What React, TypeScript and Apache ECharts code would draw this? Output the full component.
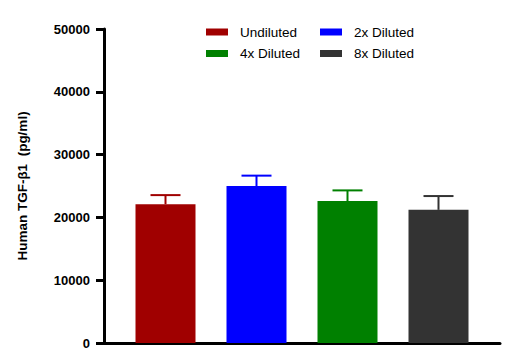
import React, { useEffect, useRef } from "react";
import * as echarts from "echarts";

const categories = ["Sample"];
const seriesNames = ["Undiluted", "2x Diluted", "4x Diluted", "8x Diluted"];
const meanValues = [22100, 25000, 22600, 21200];
const errorTops = [23550, 26650, 24300, 23400];
const yMin = 0;
const yMax = 50000;
const yInterval = 10000;
const yTitle = "Human TGF-\u03b21  (pg/ml)";

const COLORS = ["#a00000", "#0000ff", "#008000", "#333333"];
const BAR_W = 60;
const BAR_GAP = 31;
const CAP_W = 30;
const FONT = "'Liberation Sans', Arial, Helvetica, sans-serif";

export default function App() {
  const ref = useRef<HTMLDivElement>(null);
  useEffect(() => {
    if (!ref.current) return;
    const chart = echarts.init(ref.current, null, { renderer: "svg" });
    const period = BAR_W + BAR_GAP;
    const barSeries = seriesNames.map((name, i) => ({
      name,
      type: "bar",
      data: [meanValues[i]],
      barWidth: BAR_W,
      barGap: `${(BAR_GAP / BAR_W) * 100}%`,
      itemStyle: { color: COLORS[i] },
      z: 2,
    }));
    const errSeries = seriesNames.map((name, i) => ({
      name: name + " SEM",
      type: "custom",
      data: [[0, meanValues[i], errorTops[i]]],
      z: 3,
      renderItem: (params: any, api: any) => {
        const base = api.coord([api.value(0), api.value(1)]);
        const top = api.coord([api.value(0), api.value(2)]);
        const x = base[0] + (i - 1.5) * period;
        const style = { stroke: COLORS[i], lineWidth: 2, fill: "none" };
        return {
          type: "group",
          children: [
            { type: "line", shape: { x1: x, y1: base[1], x2: x, y2: top[1] }, style },
            { type: "line", shape: { x1: x - CAP_W / 2, y1: top[1], x2: x + CAP_W / 2, y2: top[1] }, style },
          ],
        };
      },
    }));
    const legendText = { fontFamily: FONT, fontSize: 13.5, color: "#000", lineHeight: 14, padding: [0, 0, 0, 7] };
    chart.setOption({
      animation: false,
      textStyle: { fontFamily: FONT },
      legend: [
        {
          data: [seriesNames[0], seriesNames[2]],
          orient: "vertical",
          left: 206,
          top: 25,
          padding: 0,
          itemWidth: 22,
          itemHeight: 7,
          itemGap: 7.5,
          icon: "rect",
          textStyle: legendText,
        },
        {
          data: [seriesNames[1], seriesNames[3]],
          orient: "vertical",
          left: 320,
          top: 25,
          padding: 0,
          itemWidth: 22,
          itemHeight: 7,
          itemGap: 7.5,
          icon: "rect",
          textStyle: legendText,
        },
      ],
      grid: { left: 104, right: 8, top: 29, bottom: 18, containLabel: false },
      xAxis: {
        type: "category",
        data: categories,
        axisLine: { lineStyle: { color: "#000", width: 3 } },
        axisTick: { alignWithLabel: true, length: 4, lineStyle: { color: "#000", width: 2 } },
        axisLabel: { show: false },
        splitLine: { show: false },
      },
      yAxis: {
        type: "value",
        min: yMin,
        max: yMax,
        interval: yInterval,
        name: yTitle,
        nameLocation: "middle",
        nameGap: 75,
        nameTextStyle: { fontFamily: FONT, fontSize: 13.5, fontWeight: "bold", color: "#000" },
        axisLine: { show: true, lineStyle: { color: "#000", width: 3 } },
        axisTick: { show: true, length: 8, lineStyle: { color: "#000", width: 3 } },
        axisLabel: {
          margin: 14,
          fontFamily: FONT,
          fontSize: 13,
          fontWeight: "bold",
          color: "#000",
          formatter: (v: number) => String(v),
        },
        splitLine: { show: false },
      },
      series: [...barSeries, ...errSeries],
    });
    return () => chart.dispose();
  }, []);
  return (
    <div
      ref={ref}
      style={{ position: "fixed", left: 0, top: 0, width: 508, height: 361, background: "#fff" }}
    />
  );
}
